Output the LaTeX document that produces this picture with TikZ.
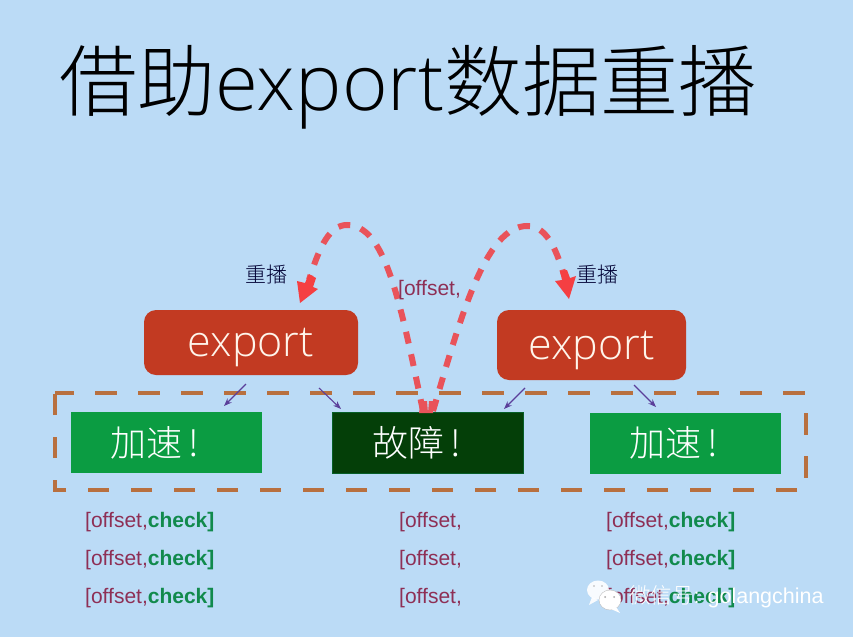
\documentclass[tikz,border=0pt]{standalone}
\usepackage{fontspec}
\setmainfont{Liberation Sans}
\newfontfamily\cjk{Noto Sans CJK SC}
\newfontfamily\cjkl{Noto Sans CJK SC Light}
\newfontfamily\latl{Open Sans Light}
\usetikzlibrary{arrows.meta,calc}
\definecolor{bg}{HTML}{BBDBF6}
\definecolor{redbox}{HTML}{C23A22}
\definecolor{greenbox}{HTML}{0B9C42}
\definecolor{darkbox}{HTML}{043F08}
\definecolor{dashor}{HTML}{B8703F}
\definecolor{replay}{HTML}{E9535A}
\definecolor{purp}{HTML}{5B3F9A}
\definecolor{offs}{HTML}{8E2F55}
\definecolor{chk}{HTML}{118A4C}
\tikzset{
 x=1pt,y=-1pt,
 exportbox/.style={draw=none,fill=redbox,rounded corners=12pt,text=white!92!orange,inner sep=0pt,font=\latl\fontsize{43}{44}\selectfont},
 fastbox/.style={fill=greenbox,minimum width=191pt,minimum height=61pt,inner sep=0pt,text=white,font=\cjkl\fontsize{36}{38}\selectfont},
 faultbox/.style={fastbox,fill=darkbox,draw=greenbox!60!black,line width=.5pt},
 replayline/.style={draw=replay,line width=6pt,dash pattern=on 12pt off 11pt},
 small/.style={-{Stealth[length=8pt,width=6pt]},draw=purp,line width=1.1pt},
 offsetlab/.style={anchor=west,inner sep=0pt,text=offs,font=\fontsize{21}{23}\selectfont},
 replaylab/.style={inner sep=0pt,text=black!80!blue,font=\cjkl\fontsize{21}{23}\selectfont},
}
\newcommand{\off}{[offset,{\bfseries\color{chk}check]}}
\newcommand{\shifted}[1]{\raisebox{-1pt}{#1\hspace{22pt}}}
\newcommand{\lowered}[1]{\raisebox{-14pt}[0pt][0pt]{#1}}
\begin{document}
\begin{tikzpicture}
\path[use as bounding box,fill=bg] (0,0) rectangle (853,637);
\node[inner sep=0pt,anchor=center,text=black,font=\fontsize{78}{80}\selectfont] (title) at (408,87) {{\cjkl 借助}{\latl export}{\cjkl 数据重播}};

\draw[draw=dashor,line width=4.5pt,dash pattern=on 21.5pt off 21.5pt,dash phase=3pt] (55,393) -- (806,393) -- (806,490) -- (55,490) -- cycle;

\node[exportbox,minimum width=214pt,minimum height=65pt] (e1) at (251,342.5) {\lowered{export}};
\node[exportbox,minimum width=189pt,minimum height=70pt] (e2) at (591.5,345) {\lowered{export}};
\node[fastbox] (f1) at (166,442.5) {\shifted{加速\,!}};
\node[faultbox] (f2) at (428,443) {\shifted{故障\,!}};
\node[fastbox] (f3) at (685,443) {\shifted{加速\,!}};

\draw[replayline] (423,411) .. controls (400,300) and (385,225) .. (347,225) .. controls (330,225) and (320,245) .. (309,280);
\draw[replayline] (433,411) .. controls (460,320) and (485,226) .. (527,226) .. controls (545,226) and (555,245) .. (564,275);
\fill[replay!50!red!90!white] (300,303) -- (297,281) -- (305,283) -- (309,274) -- (316,278) -- (313,287) -- (318,289) -- cycle;
\fill[replay!50!red!90!white] (569,299) -- (555,281) -- (562,280) -- (560,271) -- (567,270) -- (570,278) -- (576,276) -- cycle;
\fill[replay] (419,413) -- (421,401) -- (427,401) -- (428,413) -- (429,401) -- (434,401) -- (433,413) -- cycle;

\draw[small] (246,384) -- (224,406);
\draw[small] (319,388) -- (341,409);
\draw[small] (525,388) -- (504,409);
\draw[small] (634,385) -- (656,407);

\node[replaylab] (r1) at (266,275) {重播};
\node[replaylab] (r2) at (597,275) {重播};
\node[offsetlab] (o0) at (398,290) {[offset,};

\node[offsetlab] (a1) at (85,522) {\off};
\node[offsetlab] (a2) at (85,560) {\off};
\node[offsetlab] (a3) at (85,598) {\off};
\node[offsetlab] (b1) at (399,522) {[offset,};
\node[offsetlab] (b2) at (399,560) {[offset,};
\node[offsetlab] (b3) at (399,598) {[offset,};
\node[offsetlab] (c1) at (606,522) {\off};
\node[offsetlab] (c2) at (606,560) {\off};
\node[offsetlab] (c3) at (606,598) {\off};

% watermark
\fill[white,opacity=.9] (598,590) ellipse (11pt and 9.5pt);
\fill[white,opacity=.9] (592,597) -- (589,605) -- (598,600) -- cycle;
\fill[white,draw=gray!50,line width=.4pt] (610,600) ellipse (11pt and 10pt);
\fill[white] (616,607) -- (620,613) -- (611,609) -- cycle;
\fill[gray!70] (605,597) circle (1pt) (614,597) circle (1pt);
\fill[gray!60] (594,586) circle (.9pt) (602,586) circle (.9pt);
\node[anchor=west,inner sep=0pt,text=white,font=\fontsize{21.5}{23}\selectfont] (wm) at (629,597) {{\cjkl 微信号}: golangchina};
\end{tikzpicture}
\end{document}
